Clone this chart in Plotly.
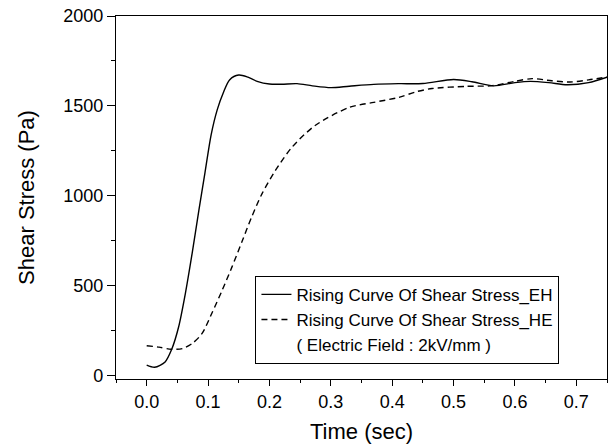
import plotly.graph_objects as go

# Rising curve EH (solid)
time_eh = [0.0, 0.013, 0.03, 0.041, 0.052, 0.063, 0.074, 0.085, 0.095, 0.105, 0.115,
           0.125, 0.135, 0.15, 0.165, 0.18, 0.2, 0.22, 0.245, 0.27, 0.3, 0.33, 0.37,
           0.41, 0.45, 0.5, 0.53, 0.565, 0.6, 0.625, 0.655, 0.685, 0.72, 0.75]
stress_eh = [60, 48, 78, 150, 272, 458, 680, 920, 1130, 1340, 1480,
             1575, 1645, 1672, 1660, 1637, 1622, 1621, 1624, 1612, 1602, 1610, 1620,
             1624, 1625, 1647, 1635, 1612, 1630, 1637, 1630, 1618, 1630, 1660]

# Rising curve HE (dashed)
time_he = [0.0, 0.02, 0.04, 0.058, 0.074, 0.09, 0.106, 0.123, 0.139, 0.155, 0.171,
           0.188, 0.21, 0.237, 0.275, 0.33, 0.37, 0.411, 0.44, 0.465, 0.52, 0.563,
           0.6, 0.628, 0.66, 0.69, 0.72, 0.75]
stress_he = [168, 160, 148, 152, 180, 235, 347, 476, 606, 744, 883,
             1013, 1143, 1272, 1393, 1492, 1520, 1548, 1580, 1597, 1609, 1613,
             1637, 1652, 1640, 1633, 1645, 1661]

name_eh = "Rising Curve Of Shear Stress_EH"
name_he = "Rising Curve Of Shear Stress_HE"
name_note = "( Electric Field : 2kV/mm )"

FONT = "Liberation Sans"

fig = go.Figure()
fig.add_trace(go.Scatter(x=time_eh, y=stress_eh, mode="lines", name=name_eh,
                         line=dict(color="black", width=1.4, shape="spline", smoothing=0.8)))
fig.add_trace(go.Scatter(x=time_he, y=stress_he, mode="lines", name=name_he,
                         line=dict(color="black", width=1.4, dash="6px,4px",
                                   shape="spline", smoothing=0.8)))
fig.add_trace(go.Scatter(x=[None], y=[None], mode="lines", name=name_note,
                         line=dict(color="rgba(0,0,0,0)", width=0)))

fig.update_layout(
    width=613, height=448,
    margin=dict(l=116, r=6, t=16, b=69),
    paper_bgcolor="white", plot_bgcolor="white",
    font=dict(family=FONT, color="black"),
    showlegend=True,
    legend=dict(x=0.284, y=0.163, xanchor="left", yanchor="middle",
                bordercolor="black", borderwidth=1, bgcolor="white",
                font=dict(size=17, family=FONT), tracegroupgap=0),
)

fig.update_xaxes(
    range=[-0.05, 0.75], tick0=0, dtick=0.1, tickformat=".1f",
    showline=True, linecolor="black", linewidth=1.3, mirror=True,
    ticks="outside", ticklen=6, tickwidth=1.3, tickcolor="black",
    minor=dict(ticks="outside", dtick=0.05, tick0=0, ticklen=3, tickwidth=1.3, tickcolor="black"),
    showgrid=False, zeroline=False,
    tickfont=dict(size=18, family=FONT),
    title=dict(text="Time (sec)", font=dict(size=22, family=FONT), standoff=12),
)
fig.update_yaxes(
    range=[-17, 2000], tick0=0, dtick=500,
    showline=True, linecolor="black", linewidth=1.3, mirror=True,
    ticks="outside", ticklen=8, tickwidth=1.3, tickcolor="black",
    minor=dict(ticks="outside", dtick=250, tick0=0, ticklen=4, tickwidth=1.3, tickcolor="black"),
    showgrid=False, zeroline=False,
    tickfont=dict(size=18, family=FONT),
    title=dict(text="Shear Stress (Pa)", font=dict(size=22, family=FONT), standoff=22),
)

fig.write_html("out.html")
